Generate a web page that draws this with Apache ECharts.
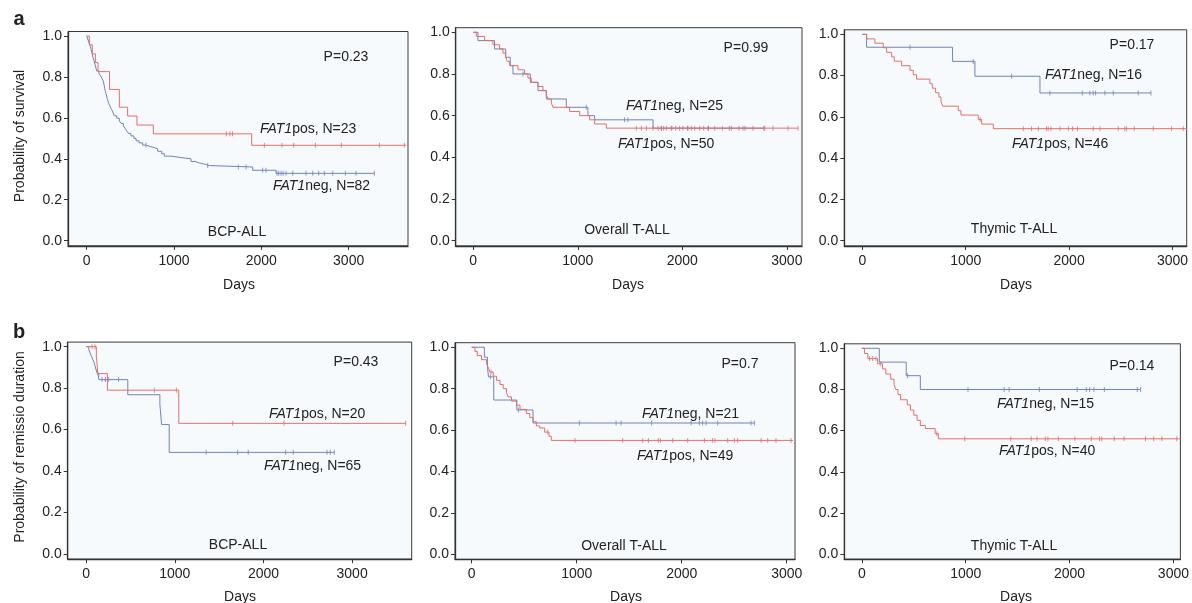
<!DOCTYPE html>
<html>
<head>
<meta charset="utf-8">
<script src="https://cdn.jsdelivr.net/npm/echarts@6/dist/echarts.min.js"></script>
<style>
html,body{margin:0;padding:0;background:#fff;}
#chart{width:1192px;height:603px;}
</style>
</head>
<body>
<div id="chart"></div>
<script>
// ---------- DATA ----------
const xTicks = [0, 1000, 2000, 3000];
const yTicks = [0, 0.2, 0.4, 0.6, 0.8, 1.0];

// (a) overall survival, BCP-ALL
const osBcpPos = [[0,1],[30,0.957],[65,0.913],[100,0.870],[130,0.826],[262,0.739],[374,0.652],[469,0.609],[576,0.565],[763,0.522],[1890,0.466],[3660,0.466]];
const osBcpPosCens = [1600,1640,1670,2035,2237,2371,2619,2917,3352,3638];
const osBcpNeg = [[0,1],[20,0.976],[40,0.951],[55,0.927],[68,0.902],[85,0.878],[100,0.854],[115,0.829],[140,0.817],[160,0.805],[175,0.793],[190,0.780],[202,0.756],[212,0.732],[221,0.720],[235,0.695],[252,0.671],[265,0.659],[278,0.646],[295,0.634],[316,0.610],[345,0.598],[374,0.585],[395,0.573],[420,0.561],[440,0.549],[458,0.537],[480,0.524],[507,0.512],[540,0.500],[565,0.488],[600,0.478],[641,0.467],[680,0.461],[717,0.455],[770,0.449],[813,0.437],[860,0.425],[889,0.413],[966,0.406],[1080,0.400],[1195,0.387],[1240,0.380],[1290,0.374],[1350,0.367],[1405,0.360],[1901,0.344],[2168,0.329],[3295,0.329]];
const osBcpNegCens = [679,1386,1737,1825,2015,2054,2180,2200,2226,2250,2283,2360,2512,2589,2657,2722,2818,2963,3085,3295];

// (a) overall survival, overall T-ALL
const osTallPos = [[0,1],[29,0.98],[109,0.96],[188,0.94],[252,0.92],[284,0.90],[310,0.88],[326,0.86],[348,0.84],[428,0.82],[491,0.80],[523,0.78],[555,0.76],[619,0.74],[667,0.72],[699,0.70],[715,0.68],[747,0.66],[763,0.64],[922,0.62],[1018,0.60],[1113,0.58],[1161,0.56],[1273,0.54],[3107,0.54]];
const osTallPosCens = [1560,1608,1656,1719,1768,1799,1822,1847,1895,1936,1974,2006,2054,2086,2118,2166,2204,2246,2310,2383,2469,2542,2581,2676,2788,2868,3012,3107];
const osTallNeg = [[0,1],[45,0.96],[204,0.92],[310,0.88],[354,0.84],[380,0.80],[546,0.76],[619,0.72],[699,0.68],[890,0.64],[1097,0.60],[1161,0.58],[1720,0.54],[2780,0.54]];
const osTallNegCens = [476,1081,1448,1480,1800,1900,2050,2250,2450,2600,2780];

// (a) overall survival, thymic T-ALL
const osThyPos = [[0,1],[42,0.978],[122,0.957],[203,0.935],[235,0.913],[284,0.891],[309,0.870],[380,0.848],[461,0.826],[493,0.804],[525,0.783],[654,0.761],[677,0.739],[709,0.717],[741,0.696],[761,0.674],[777,0.652],[928,0.630],[954,0.609],[1121,0.587],[1154,0.565],[1267,0.543],[3140,0.543]];
const osThyPosCens = [1140,1557,1637,1702,1782,1798,1824,1911,1992,2034,2082,2233,2298,2475,2539,2556,2630,2813,2991,3103];
const osThyNeg = [[0,1],[42,0.9375],[873,0.869],[1089,0.797],[1718,0.716],[2791,0.716]];
const osThyNegCens = [461,1073,1444,1814,2127,2201,2233,2256,2346,2427,2668,2791];

// (b) remission duration, BCP-ALL
const rdBcpPos = [[0,1],[115,0.95],[125,0.91],[131,0.87],[240,0.79],[1045,0.63],[3604,0.63]];
const rdBcpPosCens = [67,100,768,1018,1653,2231,3604];
const rdBcpNeg = [[0,1],[30,0.985],[45,0.969],[60,0.954],[75,0.938],[90,0.923],[100,0.908],[110,0.892],[120,0.877],[135,0.862],[145,0.841],[470,0.768],[832,0.72],[851,0.624],[937,0.49],[2799,0.49]];
const rdBcpNegCens = [142,179,216,254,366,1354,1709,1828,2250,2336,2716,2754,2799];

// (b) remission duration, overall T-ALL
const rdTallPos = [[0,1],[31,0.98],[53,0.96],[94,0.94],[142,0.92],[160,0.90],[173,0.88],[205,0.86],[237,0.84],[270,0.82],[300,0.80],[332,0.78],[347,0.76],[379,0.74],[427,0.72],[460,0.70],[521,0.68],[553,0.66],[584,0.64],[616,0.62],[648,0.61],[695,0.59],[736,0.57],[758,0.55],[3060,0.55]];
const rdTallPosCens = [184,724,984,1438,1629,1683,1778,1797,1914,2057,2216,2295,2317,2438,2502,2533,2756,2819,2898,3041];
const rdTallNeg = [[0,1],[121,0.952],[150,0.905],[160,0.857],[210,0.745],[430,0.697],[584,0.634],[2692,0.634]];
const rdTallNegCens = [178,444,1025,1375,1422,1714,2089,2168,2200,2232,2343,2660,2692];

// (b) remission duration, thymic T-ALL
const rdThyPos = [[0,1],[25,0.975],[57,0.95],[152,0.925],[199,0.90],[231,0.875],[278,0.85],[310,0.825],[326,0.80],[348,0.775],[373,0.75],[437,0.725],[468,0.70],[500,0.675],[532,0.65],[563,0.625],[611,0.61],[706,0.585],[737,0.56],[3070,0.56]];
const rdThyPosCens = [73,104,136,177,722,991,1434,1630,1687,1766,1791,1892,2051,2209,2288,2310,2430,2525,2731,2810,2889,3032];
const rdThyNeg = [[0,1],[168,0.933],[427,0.867],[563,0.80],[2684,0.80]];
const rdThyNegCens = [440,1022,1370,1418,1709,2073,2161,2193,2234,2335,2652,2684];

// ---------- LAYOUT / STYLE ----------
const RED = '#e46f68';
const BLUE = '#7083b8';
const FONT = 'Liberation Sans';
const TXT = '#222';

const panels = [
  {g:{left:68, top:31.5, width:340, height:214.3}, xMin:-214, xMax:3680, pos:osBcpPos, posC:osBcpPosCens, neg:osBcpNeg, negC:osBcpNegCens},
  {g:{left:455.7, top:27.7, width:346.3, height:218.2}, xMin:-168, xMax:3145, pos:osTallPos, posC:osTallPosCens, neg:osTallNeg, negC:osTallNegCens},
  {g:{left:844.3, top:29.8, width:342.4, height:216.1}, xMin:-174, xMax:3137, pos:osThyPos, posC:osThyPosCens, neg:osThyNeg, negC:osThyNegCens},
  {g:{left:67.7, top:342.1, width:344, height:217}, xMin:-208, xMax:3672, pos:rdBcpPos, posC:rdBcpPosCens, neg:rdBcpNeg, negC:rdBcpNegCens},
  {g:{left:455, top:342.7, width:340, height:216.7}, xMin:-159, xMax:3079, pos:rdTallPos, posC:rdTallPosCens, neg:rdTallNeg, negC:rdTallNegCens},
  {g:{left:844.3, top:343.8, width:340.7, height:215.4}, xMin:-169, xMax:3067, pos:rdThyPos, posC:rdThyPosCens, neg:rdThyNeg, negC:rdThyNegCens}
];

function survAt(curve, t) {
  let s = curve[0][1];
  for (const p of curve) { if (p[0] <= t) s = p[1]; else break; }
  return s;
}

const grids = [], xAxes = [], yAxes = [], series = [];
panels.forEach((p, i) => {
  grids.push(Object.assign({show:true, borderColor:'#3a3a3a', borderWidth:1, backgroundColor:'#f7fafd'}, p.g));
  xAxes.push({
    type:'value', gridIndex:i, min:p.xMin, max:p.xMax,
    axisLine:{show:true, onZero:false, lineStyle:{color:'#333', width:1.3}},
    axisTick:{show:true, length:4, inside:false, customValues:xTicks, lineStyle:{color:'#333'}},
    axisLabel:{customValues:xTicks, margin:8, fontFamily:FONT, fontSize:14, color:TXT, formatter:v=>String(Math.round(v))},
    splitLine:{show:false}
  });
  yAxes.push({
    type:'value', gridIndex:i, min:-0.025, max:1.022,
    axisLine:{show:true, onZero:false, lineStyle:{color:'#333', width:1.3}},
    axisTick:{show:true, length:4, customValues:yTicks, lineStyle:{color:'#333'}},
    axisLabel:{customValues:yTicks, margin:6, fontFamily:FONT, fontSize:14, color:TXT, formatter:v=>v.toFixed(1)},
    splitLine:{show:false}
  });
  [[p.neg, p.negC, BLUE], [p.pos, p.posC, RED]].forEach(([curve, cens, col]) => {
    series.push({type:'line', xAxisIndex:i, yAxisIndex:i, data:curve, step:'end', showSymbol:false, symbol:'none',
      lineStyle:{color:col, width:1}, animation:false, silent:true, clip:true});
    series.push({type:'scatter', xAxisIndex:i, yAxisIndex:i, data:cens.map(t=>[t, survAt(curve, t)]),
      symbol:'rect', symbolSize:[1,5], itemStyle:{color:col}, animation:false, silent:true, clip:true});
  });
});

function txt(x, y, text, opts) {
  opts = opts || {};
  return {
    type:'text', x:x, y:y, rotation:opts.rot || 0, silent:true, z:100,
    style:{text:text, fontFamily:FONT, fontSize:opts.size || 14, fontWeight:opts.weight || 'normal',
      fill:TXT, align:opts.align || 'center', verticalAlign:'middle',
      rich:{i:{fontStyle:'italic', fontFamily:FONT, fontSize:14, fill:TXT}}}
  };
}

const graphics = [
  txt(19, 19, 'a', {size:20, weight:'bold'}),
  txt(19, 332, 'b', {size:20, weight:'bold'}),
  txt(20, 136, 'Probability of survival', {rot:Math.PI/2}),
  txt(20, 447, 'Probability of remissio duration', {rot:Math.PI/2}),
  // panel 1
  txt(346, 57, 'P=0.23'),
  txt(260, 129, '{i|FAT1}pos, N=23', {align:'left'}),
  txt(273, 186, '{i|FAT1}neg, N=82', {align:'left'}),
  txt(237, 232, 'BCP-ALL'),
  txt(239, 285, 'Days'),
  // panel 2
  txt(746, 48, 'P=0.99'),
  txt(626, 106, '{i|FAT1}neg, N=25', {align:'left'}),
  txt(618, 144, '{i|FAT1}pos, N=50', {align:'left'}),
  txt(627, 230, 'Overall T-ALL'),
  txt(628, 285, 'Days'),
  // panel 3
  txt(1132, 45, 'P=0.17'),
  txt(1045, 75, '{i|FAT1}neg, N=16', {align:'left'}),
  txt(1012, 144, '{i|FAT1}pos, N=46', {align:'left'}),
  txt(1014, 229, 'Thymic T-ALL'),
  txt(1016, 285, 'Days'),
  // panel 4
  txt(356, 362, 'P=0.43'),
  txt(269, 414, '{i|FAT1}pos, N=20', {align:'left'}),
  txt(264, 466, '{i|FAT1}neg, N=65', {align:'left'}),
  txt(238, 545, 'BCP-ALL'),
  txt(240, 597, 'Days'),
  // panel 5
  txt(740, 364, 'P=0.7'),
  txt(642, 414, '{i|FAT1}neg, N=21', {align:'left'}),
  txt(637, 456, '{i|FAT1}pos, N=49', {align:'left'}),
  txt(624, 546, 'Overall T-ALL'),
  txt(626, 597, 'Days'),
  // panel 6
  txt(1132, 366, 'P=0.14'),
  txt(997, 404, '{i|FAT1}neg, N=15', {align:'left'}),
  txt(999, 451, '{i|FAT1}pos, N=40', {align:'left'}),
  txt(1014, 546, 'Thymic T-ALL'),
  txt(1016, 597, 'Days')
];

const chart = echarts.init(document.getElementById('chart'), null, {renderer:'canvas'});
chart.setOption({
  animation:false,
  backgroundColor:'#ffffff',
  grid:grids, xAxis:xAxes, yAxis:yAxes, series:series,
  graphic:graphics
});
</script>
</body>
</html>
